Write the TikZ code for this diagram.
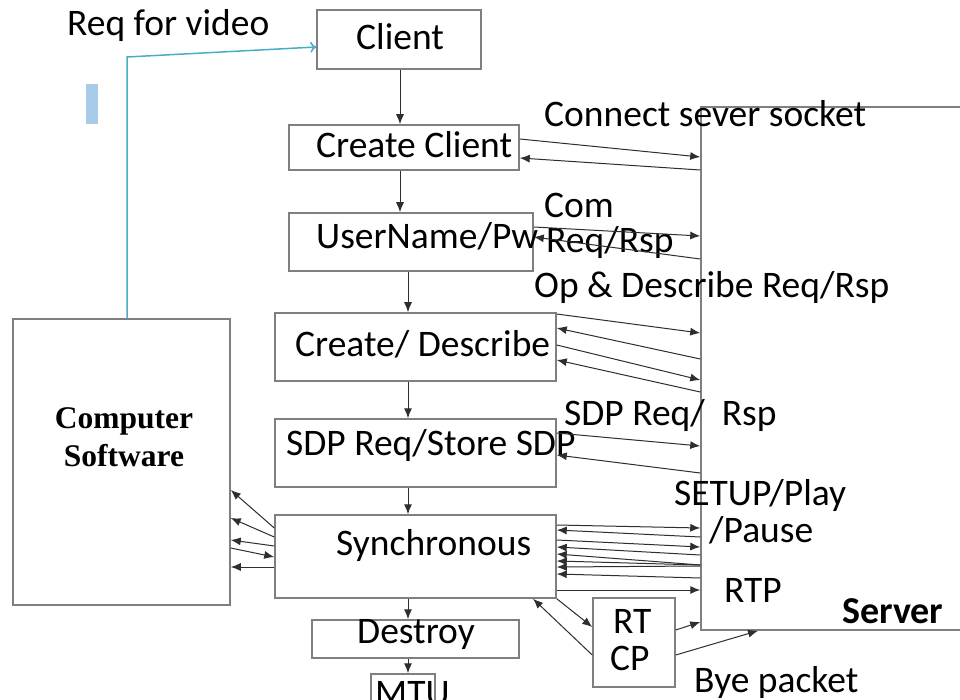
\documentclass[tikz,border=0pt]{standalone}
\usepackage{fontspec}
\setmainfont{Carlito}
\newfontfamily\timesbold{Liberation Serif}[BoldFont={Liberation Serif Bold}]
\usetikzlibrary{arrows.meta}
\usetikzlibrary{positioning}
\definecolor{boxgray}{HTML}{7F7F7F}
\definecolor{linegray}{HTML}{2E2E2E}
\definecolor{reqblue}{HTML}{4BACC6}
\definecolor{cursorblue}{HTML}{A9CBEA}
\tikzset{
    box/.style={draw=boxgray,line width=1.5pt,rectangle,inner sep=0pt},
    txt/.style={inner sep=0pt,anchor=base west,font=\fontsize{37.5}{40}\selectfont},
    arr/.style={draw=linegray,line width=1pt,-{Latex[length=10pt,width=8pt]}},
    reqline/.style={draw=reqblue,line width=1.5pt,-{To[length=6pt,width=11pt]}}
}
\begin{document}
\begin{tikzpicture}[x=1pt,y=-1pt]
    \clip (0,0) rectangle (960,700);
    \fill[white] (0,0) rectangle (960,700);
    % boxes of the client side
    \node[box,minimum width=164pt,minimum height=59pt] (client) at (399,39.5) {};
    \node[box,minimum width=230pt,minimum height=45pt] (create) at (404,147.5) {};
    \node[box,minimum width=244pt,minimum height=58pt] (user) at (411,242) {};
    \node[box,minimum width=281pt,minimum height=68pt] (describe) at (415.5,347) {};
    \node[box,minimum width=281pt,minimum height=68pt] (sdp) at (415.5,453) {};
    \node[box,minimum width=281pt,minimum height=83pt] (sync) at (415.5,556.5) {};
    \node[box,minimum width=207pt,minimum height=38pt] (destroy) at (415.5,639) {};
    \node[box,minimum width=64pt,minimum height=60pt] (mtu) at (403,704) {};
    \node[box,minimum width=82pt,minimum height=89pt] (rtcp) at (634,642.5) {};
    \node[box,minimum width=217pt,minimum height=286pt] (comp) at (121.5,462) {};
    \node[box,minimum width=270pt,minimum height=523pt] (server) at (836,368.5) {};
    % texts
    \node[txt] (clientTxt) at (356,50) {Client};
    \node[txt] (createTxt) at (316,158) {Create Client};
    \node[txt] (userTxt) at (316,249) {UserName/Pw};
    \node[txt] (describeTxt) at (295,356) {Create/ Describe};
    \node[txt] (sdpTxt) at (286,455) {SDP Req/Store SDP};
    \node[txt] (syncTxt) at (336,555) {Synchronous};
    \node[txt] (destroyTxt) at (357,643) {Destroy};
    \node[txt] (mtuTxt) at (375,705) {MTU};
    \node[txt] (rtTxt) at (613,633) {RT};
    \node[txt] (cpTxt) at (610,670) {CP};
    \node[inner sep=0pt,align=center,font=\timesbold\bfseries\fontsize{31.5}{38}\selectfont] (compTxt) at (124,437) {Computer\\Software};
    \node[txt,font=\bfseries\fontsize{38}{40}\selectfont] (serverTxt) at (842,623) {Server};
    \node[txt] (reqTxt) at (67,36) {Req for video};
    \node[txt] (connectTxt) at (544,127) {Connect sever socket};
    \node[txt] (comTxt) at (544,218) {Com};
    \node[txt] (rspTxt) at (546,253) {Req/Rsp};
    \node[txt] (opTxt) at (534,298) {Op \& Describe Req/Rsp};
    \node[txt] (sdpRspTxt) at (564,425) {SDP Req/\ \ Rsp};
    \node[txt] (setupTxt) at (674,505) {SETUP/Play};
    \node[txt] (pauseTxt) at (709,542) {/Pause};
    \node[txt] (rtpTxt) at (724,602) {RTP};
    \node[txt] (byeTxt) at (694,692) {Bye packet};
    % cursor mark
    \fill[cursorblue] (86,84) rectangle (98,124);
    % request from the software
    \coordinate (bend) at (127,57);
    \draw[reqline] (comp.north -| bend) -- (bend) -- (client.west |- 0,47);
    % main flow
    \draw[arr] (client.south -| 400,0) -- (create.north -| 400,0);
    \draw[arr] (create.south -| 400,0) -- (user.north -| 400,0);
    \draw[arr] (user.south -| 408,0) -- (describe.north -| 408,0);
    \draw[arr] (describe.south -| 408,0) -- (sdp.north -| 408,0);
    \draw[arr] (sdp.south -| 408,0) -- (sync.north -| 408,0);
    \draw[arr] (sync.south -| 408,0) -- (destroy.north -| 408,0);
    \draw[arr] (destroy.south -| 408,0) -- (mtu.north -| 408,0);
    % to and from the server
    \draw[arr] (create.east |- 0,139) -- (server.west |- 0,157);
    \draw[arr] (server.west |- 0,170) -- (create.east |- 0,158);
    \draw[arr] (user.east |- 0,227) -- (server.west |- 0,236);
    \draw[arr] (server.west |- 0,259) -- (user.east |- 0,237);
    \draw[arr] (describe.east |- 0,314) -- (server.west |- 0,333);
    \draw[arr] (server.west |- 0,359) -- (describe.east |- 0,328);
    \draw[arr] (describe.east |- 0,345) -- (server.west |- 0,380);
    \draw[arr] (server.west |- 0,392) -- (describe.east |- 0,360);
    \draw[arr] (sdp.east |- 0,433) -- (server.west |- 0,446);
    \draw[arr] (server.west |- 0,473) -- (sdp.east |- 0,455);
    \foreach \ya/\yb in {525/528,540/547,590/590}
        \draw[arr] (sync.east |- 0,\ya) -- (server.west |- 0,\yb);
    \foreach \ya/\yb in {537/530,555/547,565/554,565/561,566/567,578/574}
        \draw[arr] (server.west |- 0,\ya) -- (sync.east |- 0,\yb);
    % to the software
    \foreach \ya/\yb in {528/490,537/518,546/540,567/567}
        \draw[arr] (sync.west |- 0,\ya) -- (comp.east |- 0,\yb);
    \draw[arr] (comp.east |- 0,548) -- (sync.west |- 0,557);
    % RTCP
    \draw[arr] (sync.south east) -- (rtcp.west |- 0,627);
    \draw[arr] (rtcp.west |- 0,655) -- (sync.south -| 533,0);
    \draw[arr] (rtcp.east |- 0,630) -- (server.west |- 0,622);
    \draw[arr] (rtcp.east |- 0,655) -- (server.south -| 758,0);
\end{tikzpicture}
\end{document}
